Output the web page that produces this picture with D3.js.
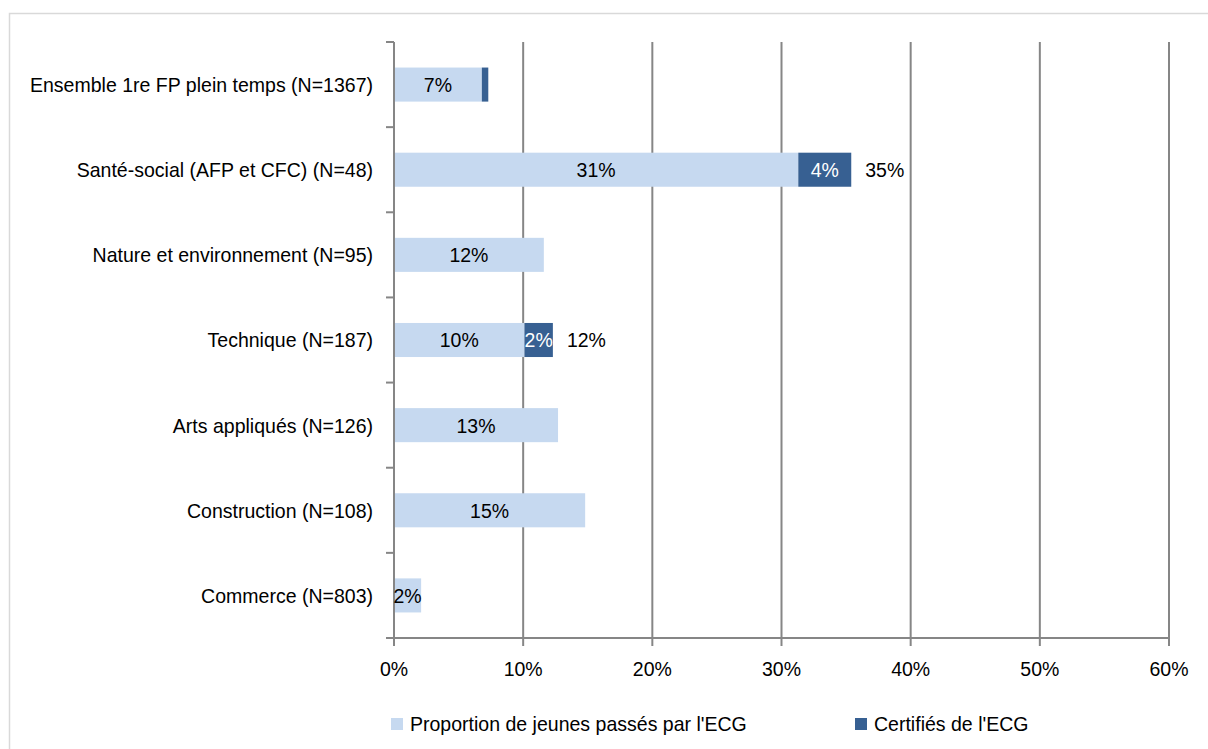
<!DOCTYPE html>
<html><head><meta charset="utf-8">
<script src="https://cdn.jsdelivr.net/npm/d3@7"></script>
<style>body{margin:0;background:#fff;}svg{display:block;font-family:"Liberation Sans",Arial,sans-serif;}</style>
</head><body>
<svg id="c" width="1208" height="749"></svg>
<script>
const categories = ["Ensemble 1re FP plein temps (N=1367)","Santé-social (AFP et CFC) (N=48)","Nature et environnement (N=95)","Technique (N=187)","Arts appliqués (N=126)","Construction (N=108)","Commerce (N=803)"];
const passes = [6.8, 31.3, 11.6, 10.1, 12.7, 14.8, 2.1];
const certifies = [0.5, 4.1, 0, 2.2, 0, 0, 0];
const passesLabels = ["7%","31%","12%","10%","13%","15%","2%"];
const certifiesLabels = ["","4%","","2%","","",""];
const totalLabels = ["","35%","","12%","","",""];
const xTicks = [0,10,20,30,40,50,60];
const seriesNames = ["Proportion de jeunes passés par l'ECG","Certifiés de l'ECG"];
const colors = ["#c6d9f0","#376092"];

const FS = 21, SX = 0.93;
function label(parent, x, y, str, anchor, fill) {
  return parent.append("text")
    .attr("transform", `translate(${x},${y}) scale(${SX},1)`)
    .attr("dy","0.35em").attr("text-anchor", anchor || "start")
    .attr("font-size", FS).attr("fill", fill || "#000").text(str);
}

const svg = d3.select("#c");
svg.append("path").attr("d","M9.5,749 V13.5 H1208").attr("fill","none").attr("stroke","#d9d9d9").attr("stroke-width",1.5);

const x0 = 394, x1 = 1169, yTop = 42, yBot = 638;
const x = d3.scaleLinear().domain([0,60]).range([x0,x1]);
const y = d3.scaleBand().domain(categories).range([yTop,yBot]).paddingInner(0.6).paddingOuter(0.3);
const band = d3.scaleBand().domain(categories).range([yTop,yBot]);
const grey = "#868686";

svg.append("g").selectAll("line").data(xTicks.slice(1)).join("line")
  .attr("x1",d=>x(d)).attr("x2",d=>x(d)).attr("y1",yTop).attr("y2",yBot)
  .attr("stroke",grey).attr("stroke-width",2);

const g = svg.append("g");
g.append("line").attr("x1",x0).attr("x2",x0).attr("y1",yTop).attr("y2",yBot+8).attr("stroke",grey).attr("stroke-width",2);
const bounds = categories.map(c=>band(c)).concat([yBot]);
g.selectAll("line.t").data(bounds).join("line").attr("class","t")
  .attr("x1",x0-8).attr("x2",x0).attr("y1",d=>d).attr("y2",d=>d).attr("stroke",grey).attr("stroke-width",2);
g.append("line").attr("x1",x0-8).attr("x2",x1).attr("y1",yBot).attr("y2",yBot).attr("stroke",grey).attr("stroke-width",2);
g.selectAll("line.b").data(xTicks).join("line").attr("class","b")
  .attr("x1",d=>x(d)).attr("x2",d=>x(d)).attr("y1",yBot).attr("y2",yBot+8).attr("stroke",grey).attr("stroke-width",2);
xTicks.forEach(d => label(g, x(d), yBot+31, d+"%", "middle"));
categories.forEach(c => label(g, x0-21, band(c)+band.bandwidth()/2, c, "end"));

const bars = svg.append("g");
categories.forEach((c,i)=>{
  const yy = y(c), h = y.bandwidth();
  bars.append("rect").attr("x",x(0)+1).attr("y",yy).attr("width",x(passes[i])-x(0)-1).attr("height",h).attr("fill",colors[0]);
  if (certifies[i]>0) bars.append("rect").attr("x",x(passes[i])).attr("y",yy).attr("width",x(passes[i]+certifies[i])-x(passes[i])).attr("height",h).attr("fill",colors[1]);
  label(bars, (x(0)+x(passes[i]))/2, yy+h/2, passesLabels[i], "middle");
  if (certifiesLabels[i]) label(bars, (x(passes[i])+x(passes[i]+certifies[i]))/2, yy+h/2, certifiesLabels[i], "middle", "#fff");
  if (totalLabels[i]) label(bars, x(passes[i]+certifies[i])+14, yy+h/2, totalLabels[i], "start");
});

const leg = svg.append("g");
const legX = [391, 855];
seriesNames.forEach((s,i)=>{
  leg.append("rect").attr("x",legX[i]).attr("y",718).attr("width",12).attr("height",12).attr("fill",colors[i]);
  label(leg, legX[i]+19, 724, s, "start");
});
</script>
</body></html>
